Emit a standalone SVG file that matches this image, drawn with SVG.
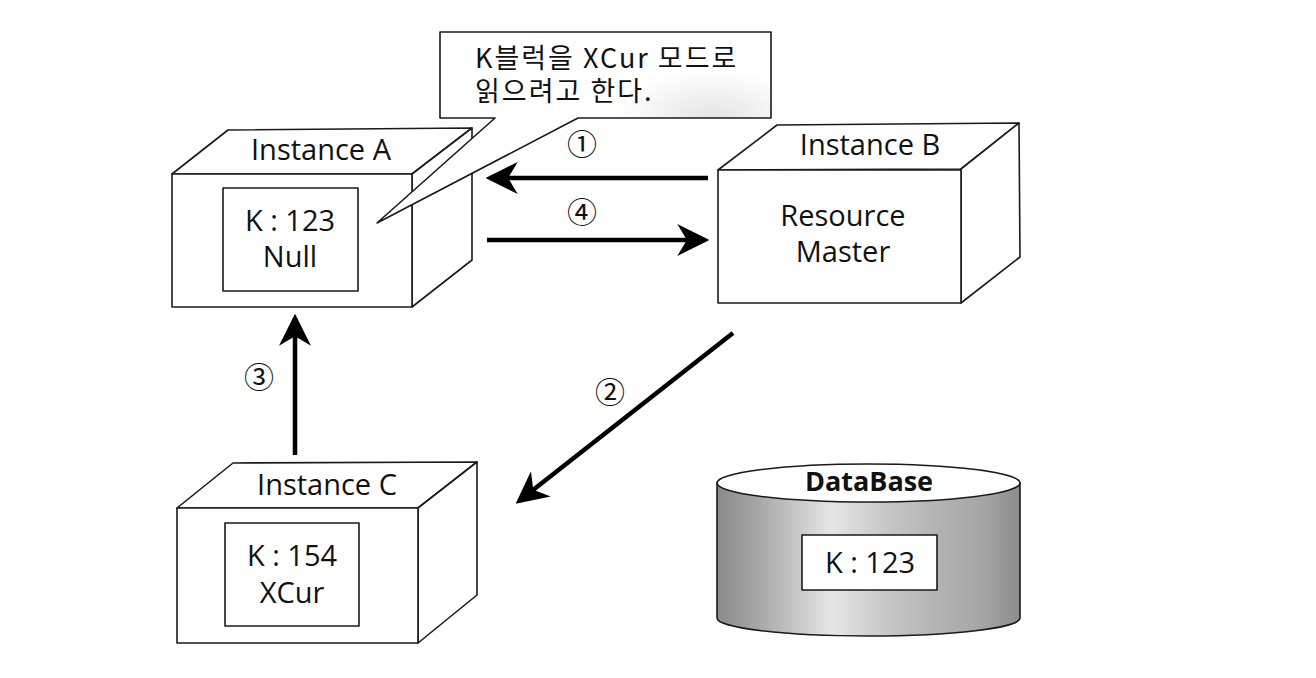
<svg xmlns="http://www.w3.org/2000/svg" width="1316" height="678" viewBox="0 0 1316 678">
<style>
.face{fill:#fff;stroke:#1a1a1a;stroke-width:1.6;stroke-linejoin:round}
.lbl{font-family:"Open Sans","Noto Sans","Noto Sans CJK KR",sans-serif;font-size:29px;fill:#111;text-anchor:middle}
.bold{font-weight:bold;font-size:27px}
.ko{font-family:"Noto Sans CJK KR","Noto Sans",sans-serif;font-size:27px;letter-spacing:2px;fill:#111}
.num{font-family:"Noto Sans CJK KR","Noto Sans",sans-serif;font-size:30px;fill:#111;text-anchor:middle}
.arrow{stroke:#000;stroke-width:4.5;fill:none;marker-end:url(#head)}
</style>
<defs>
<marker id="head" markerUnits="userSpaceOnUse" markerWidth="32" markerHeight="32" viewBox="0 0 30 30" refX="26" refY="15" orient="auto">
<path d="M0,0 L30,15 L0,30 L9,15 Z" fill="#000"/>
</marker>
<linearGradient id="cyl" x1="0" y1="0" x2="1" y2="0">
<stop offset="0" stop-color="#8a8a8a"/>
<stop offset="0.15" stop-color="#aaaaaa"/>
<stop offset="0.38" stop-color="#e6e6e6"/>
<stop offset="0.55" stop-color="#c8c8c8"/>
<stop offset="0.72" stop-color="#b4b4b4"/>
<stop offset="0.88" stop-color="#a5a5a5"/>
<stop offset="1" stop-color="#8c8c8c"/>
</linearGradient>
<radialGradient id="speck" cx="0.85" cy="0.45" r="0.25">
<stop offset="0" stop-color="#e4e4e4"/>
<stop offset="1" stop-color="#ffffff"/>
</radialGradient>
</defs>
<rect width="1316" height="678" fill="#fff"/>

<g id="instanceA">
<polygon class="face" points="172,174 228,130 472,128 412,174"/>
<polygon class="face" points="412,174 472,128 472,260 412,307"/>
<rect class="face" x="172" y="174" width="240" height="133"/>
<text class="lbl" x="321" y="160">Instance A</text>
<rect class="face" x="223" y="188" width="135" height="103"/>
<text class="lbl" x="290" y="231">K : 123</text>
<text class="lbl" x="290" y="267">Null</text>
</g>

<g id="callout">
<path class="face" d="M440,32 H771 V118 H578 L377,223 L495,118 H440 Z" style="fill:url(#speck)"/>
<text class="ko" x="475" y="68">K블럭을 XCur 모드로</text>
<text class="ko" x="475" y="101">읽으려고 한다.</text>
</g>

<g id="instanceB">
<polygon class="face" points="718,170 777,125 1019,123 961,169"/>
<polygon class="face" points="961,169 1019,123 1020,257 961,303"/>
<rect class="face" x="718" y="170" width="243" height="133"/>
<text class="lbl" x="870" y="155">Instance B</text>
<text class="lbl" x="843" y="226">Resource</text>
<text class="lbl" x="843" y="262">Master</text>
</g>

<g id="instanceC">
<polygon class="face" points="177,508 233,463 477,462 418,508"/>
<polygon class="face" points="418,508 477,462 477,595 418,643"/>
<rect class="face" x="177" y="508" width="241" height="135"/>
<text class="lbl" x="327" y="495">Instance C</text>
<rect class="face" x="225" y="523" width="134" height="103"/>
<text class="lbl" x="292" y="566">K : 154</text>
<text class="lbl" x="292" y="603">XCur</text>
</g>

<g id="database">
<path d="M717,483 V618 A151.5,18 0 0 0 1020,618 V483 Z" fill="url(#cyl)" stroke="#1a1a1a" stroke-width="1.6"/>
<ellipse cx="868.5" cy="483" rx="151.5" ry="19" fill="#fff" stroke="#1a1a1a" stroke-width="1.6"/>
<text class="lbl bold" x="869" y="491">DataBase</text>
<rect class="face" x="802" y="535" width="135" height="55"/>
<text class="lbl" x="870" y="573">K : 123</text>
</g>

<g id="connectors">
<line class="arrow" x1="708" y1="178" x2="490" y2="178"/>
<line class="arrow" x1="487" y1="240" x2="705" y2="240"/>
<line class="arrow" x1="733" y1="333" x2="519" y2="501"/>
<line class="arrow" x1="295" y1="455" x2="295" y2="318"/>
<text class="num" x="582" y="155">①</text>
<text class="num" x="582" y="223">④</text>
<text class="num" x="610" y="403">②</text>
<text class="num" x="259" y="388">③</text>
</g>
</svg>
